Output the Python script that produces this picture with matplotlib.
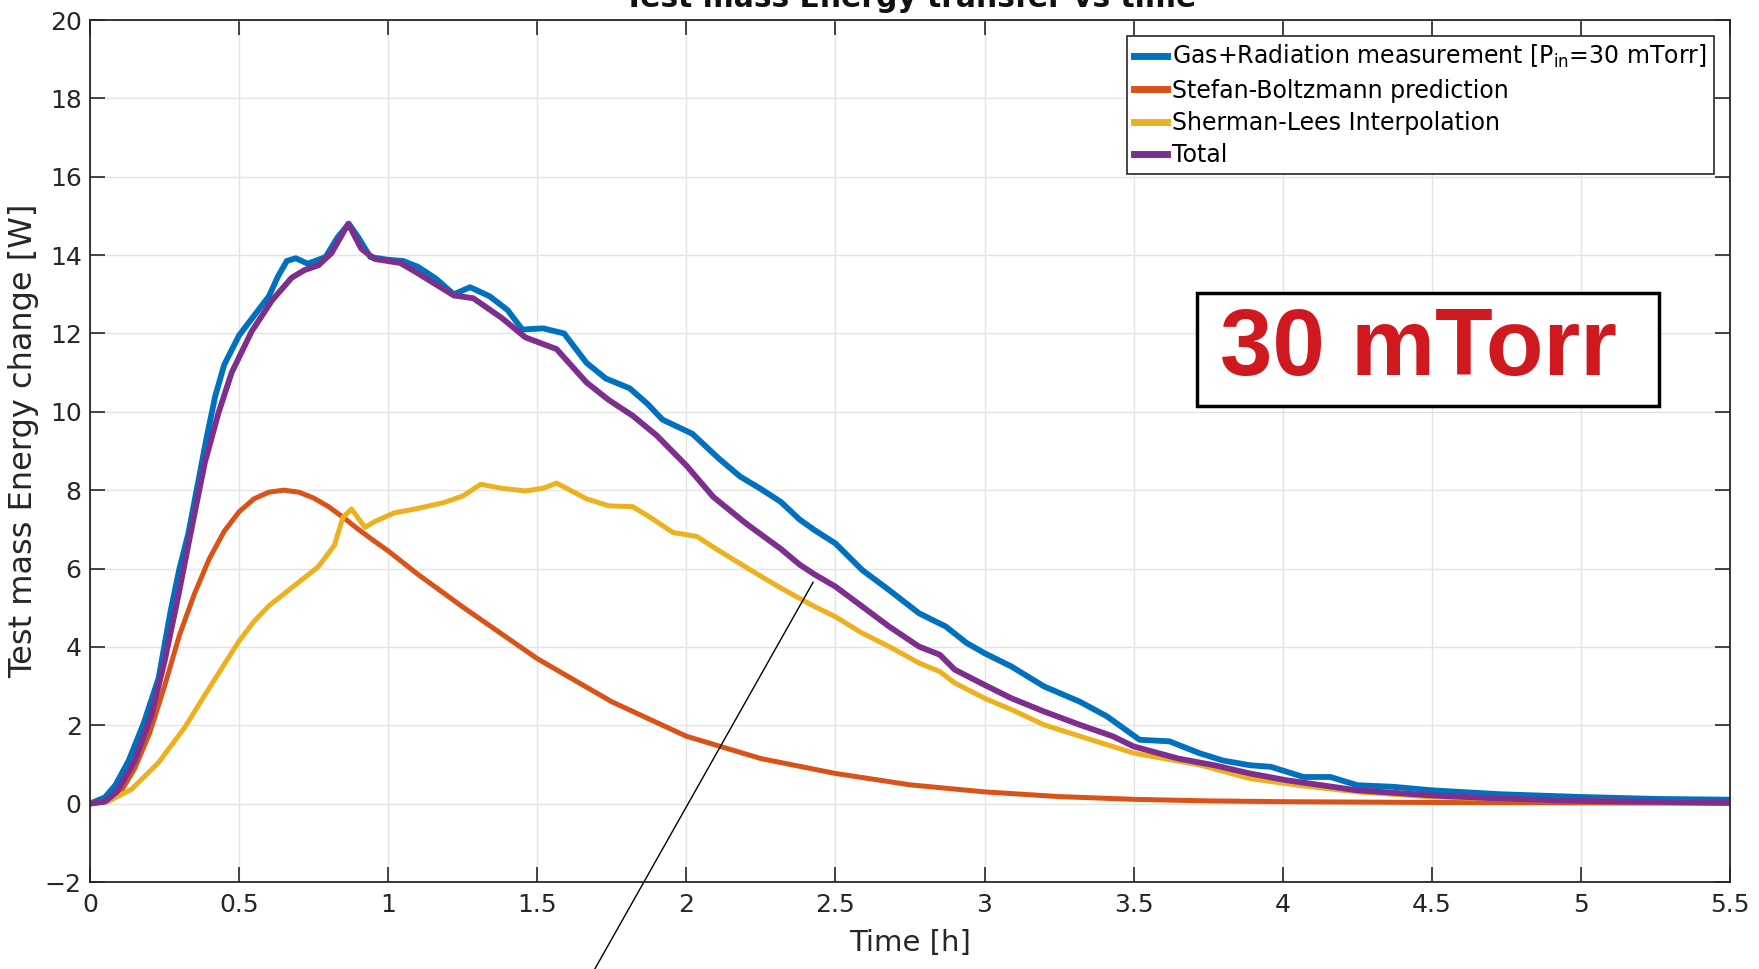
import numpy as np
import matplotlib.pyplot as plt
from matplotlib.patches import Rectangle

plt.rcParams['font.family'] = ['DejaVu Sans']
plt.rcParams['mathtext.default'] = 'regular'

# Gas+Radiation measurement (blue)
t_gas = [0, 0.05, 0.085, 0.13, 0.18, 0.23, 0.27, 0.3, 0.33, 0.36, 0.39, 0.42, 0.45, 0.5,
         0.55, 0.6, 0.63, 0.66, 0.69, 0.73, 0.79, 0.83, 0.868, 0.9, 0.94, 1.0, 1.05, 1.1,
         1.16, 1.22, 1.275, 1.34, 1.40, 1.45, 1.52, 1.59, 1.665, 1.73, 1.81, 1.87, 1.92,
         2.02, 2.11, 2.18, 2.25, 2.317, 2.38, 2.43, 2.5, 2.59, 2.68, 2.78, 2.87, 2.94, 3.0,
         3.09, 3.2, 3.32, 3.41, 3.52, 3.62, 3.72, 3.8, 3.89, 3.96, 4.07, 4.16, 4.25, 4.37,
         4.5, 4.73, 5.0, 5.25, 5.5]
gas = [0, 0.16, 0.47, 1.1, 2.05, 3.2, 4.9, 6.0, 6.9, 8.1, 9.3, 10.4, 11.2, 11.95,
       12.45, 12.95, 13.45, 13.85, 13.92, 13.78, 13.95, 14.45, 14.8, 14.45, 13.95, 13.88, 13.85, 13.7,
       13.4, 13.0, 13.18, 12.95, 12.6, 12.1, 12.13, 12.0, 11.25, 10.85, 10.6, 10.2, 9.8,
       9.44, 8.8, 8.35, 8.03, 7.7, 7.25, 6.98, 6.64, 5.96, 5.45, 4.86, 4.52, 4.1, 3.84,
       3.5, 2.99, 2.6, 2.23, 1.63, 1.59, 1.29, 1.1, 0.98, 0.94, 0.68, 0.68, 0.47, 0.43,
       0.34, 0.24, 0.17, 0.12, 0.1]

# Stefan-Boltzmann prediction (orange)
t_sb = [0, 0.05, 0.1, 0.15, 0.2, 0.25, 0.3, 0.35, 0.4, 0.45, 0.5, 0.55, 0.6, 0.65,
        0.7, 0.75, 0.8, 0.85, 0.9, 0.95, 1.0, 1.1, 1.25, 1.5, 1.75, 2.0, 2.25, 2.5, 2.75,
        3.0, 3.25, 3.5, 3.75, 4.0, 4.5, 5.0, 5.5]
sb = [0, 0.05, 0.26, 0.9, 1.8, 3.0, 4.3, 5.35, 6.25, 6.95, 7.45, 7.78, 7.95, 8.0,
      7.95, 7.8, 7.58, 7.3, 7.0, 6.72, 6.45, 5.85, 5.02, 3.7, 2.6, 1.72, 1.15, 0.77, 0.48,
      0.3, 0.18, 0.11, 0.07, 0.05, 0.03, 0.02, 0.01]

# Sherman-Lees interpolation (yellow)
t_sl = [0, 0.06, 0.14, 0.23, 0.318, 0.408, 0.5, 0.55, 0.6, 0.65, 0.7, 0.766, 0.82, 0.848,
        0.877, 0.922, 0.955, 1.02, 1.09, 1.185, 1.25, 1.31, 1.38, 1.46, 1.52, 1.565, 1.61,
        1.665, 1.74, 1.82, 1.88, 1.955, 2.035, 2.1, 2.16, 2.24, 2.317, 2.43, 2.5, 2.59, 2.68,
        2.78, 2.85, 2.9, 3.0, 3.09, 3.2, 3.32, 3.5, 3.72, 3.89, 4.07, 4.25, 4.5, 5.0, 5.5]
sl = [0, 0.05, 0.37, 1.05, 1.95, 3.05, 4.15, 4.65, 5.05, 5.35, 5.65, 6.05, 6.6, 7.3,
      7.52, 7.05, 7.2, 7.42, 7.52, 7.68, 7.85, 8.15, 8.05, 7.98, 8.05, 8.18, 8.0,
      7.78, 7.6, 7.58, 7.3, 6.92, 6.82, 6.5, 6.22, 5.85, 5.5, 5.03, 4.77, 4.35, 4.01,
      3.59, 3.37, 3.08, 2.69, 2.4, 2.01, 1.72, 1.29, 0.99, 0.64, 0.45, 0.3, 0.17, 0.07, 0.02]

# Total (purple)
t_tot = [0, 0.05, 0.09, 0.15, 0.206, 0.25, 0.296, 0.34, 0.385, 0.43, 0.475, 0.542, 0.61,
         0.676, 0.72, 0.766, 0.81, 0.866, 0.91, 0.955, 1.04, 1.09, 1.22, 1.285, 1.38, 1.46,
         1.565, 1.665, 1.74, 1.82, 1.9, 2.0, 2.09, 2.2, 2.317, 2.38, 2.43, 2.5, 2.59, 2.68,
         2.78, 2.85, 2.9, 3.0, 3.09, 3.2, 3.32, 3.43, 3.5, 3.65, 3.77, 3.89, 4.01, 4.25, 4.5,
         4.73, 5.0, 5.5]
tot = [0, 0.05, 0.3, 1.1, 2.26, 3.63, 5.3, 7.0, 8.7, 9.95, 11.0, 12.05, 12.84,
       13.42, 13.62, 13.74, 14.05, 14.8, 14.16, 13.9, 13.8, 13.58, 12.97, 12.9, 12.4, 11.9,
       11.6, 10.75, 10.3, 9.9, 9.4, 8.63, 7.83, 7.15, 6.5, 6.1, 5.85, 5.54, 5.03, 4.52,
       4.01, 3.8, 3.42, 3.03, 2.69, 2.35, 2.01, 1.72, 1.46, 1.15, 0.98, 0.77, 0.6, 0.34,
       0.21, 0.13, 0.07, 0.02]

labels = ['Gas+Radiation measurement [P$_{in}$=30 mTorr]', 'Stefan-Boltzmann prediction',
          'Sherman-Lees Interpolation', 'Total']
colors = ['#0072BD', '#D95319', '#EDB120', '#7E2F8E']

# pointer line running off the bottom of the figure
pointer_t = [2.425, 1.693]
pointer_y = [5.65, -4.22]

fig = plt.figure(figsize=(17.59, 9.69), dpi=100)
ax = fig.add_axes([90/1759, 1 - 882/969, 1640/1759, 862/969])

ax.plot(t_gas, gas, color=colors[0], lw=4.2, label=labels[0], solid_joinstyle='round')
ax.plot(t_sb, sb, color=colors[1], lw=3.6, label=labels[1], solid_joinstyle='round')
ax.plot(t_sl, sl, color=colors[2], lw=3.6, label=labels[2], solid_joinstyle='round')
ax.plot(t_tot, tot, color=colors[3], lw=4.2, label=labels[3], solid_joinstyle='round')

ax.plot(pointer_t, pointer_y, color='k', lw=1, clip_on=False)

ax.set_xlim(0, 5.5)
ax.set_ylim(-2, 20)
ax.set_xticks(np.arange(0, 5.51, 0.5))
ax.set_xticklabels(['0', '0.5', '1', '1.5', '2', '2.5', '3', '3.5', '4', '4.5', '5', '5.5'])
ax.set_yticks(np.arange(-2, 20.1, 2))
ax.grid(True, color='#e3e3e3', lw=1)
ax.set_axisbelow(True)
ax.tick_params(direction='in', length=11, width=1.2, labelsize=18, colors='#262626',
               top=True, right=True)
ax.tick_params(axis='x', pad=8)
ax.tick_params(axis='y', pad=6)
for sp in ax.spines.values():
    sp.set_color('#262626')
    sp.set_linewidth(1.3)

ax.set_xlabel('Time [h]', fontsize=21, color='#262626')
ax.set_ylabel('Test mass Energy change [W]', fontsize=23, color='#262626')
ax.xaxis.set_label_coords(0.5, -0.054)
ax.yaxis.set_label_coords(-0.031, 0.512)

fig.text(910/1759, 1 - 7/969, 'Test mass Energy transfer vs time', ha='center', va='baseline',
         fontsize=21.4, fontweight='bold', color='#111111')

leg = ax.legend(loc='upper right', bbox_to_anchor=(0.990, 0.9814), fontsize=17,
                handlelength=1.4, handletextpad=0.2, borderpad=0.3, labelspacing=0.35,
                borderaxespad=0, fancybox=False, framealpha=1, edgecolor='#262626')
leg.get_frame().set_linewidth(1.2)
for h in leg.get_lines():
    h.set_linewidth(5)

ax.add_patch(Rectangle(((1197-90)/1640, (882-406)/862), 462/1640, 113/862,
                       transform=ax.transAxes, fill=True, facecolor='white',
                       edgecolor='black', lw=2.5, zorder=5))
ax.text((1220-90)/1640, (882-375)/862, '30 mTorr', transform=ax.transAxes,
        ha='left', va='baseline', fontsize=68, fontweight='bold',
        family='Liberation Sans', color='#d0191e', zorder=6)

fig.savefig('out.png', dpi=100)
